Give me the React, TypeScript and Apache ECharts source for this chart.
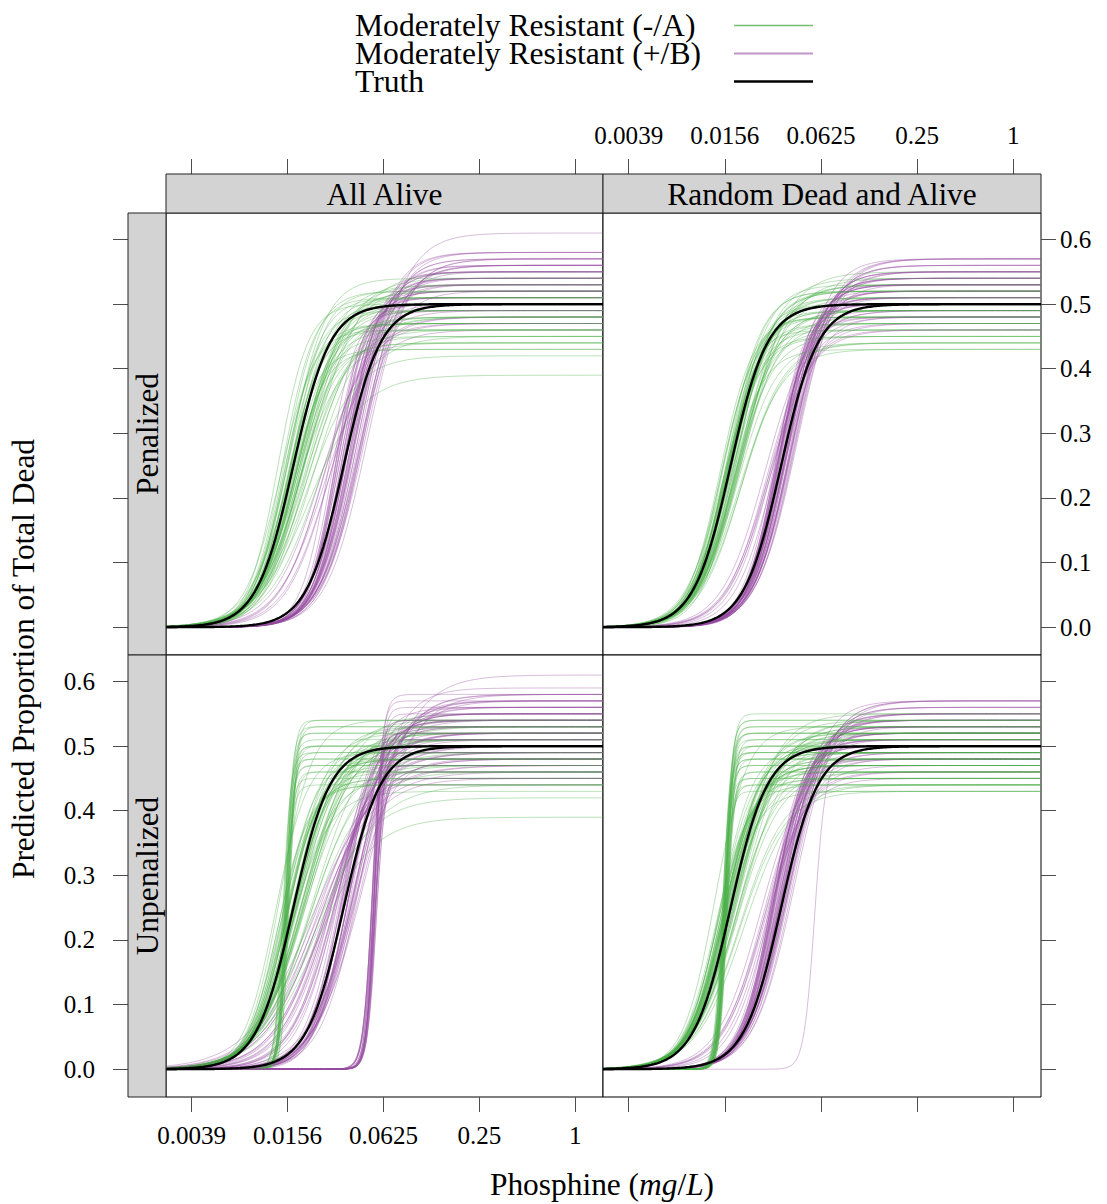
import React, { useEffect, useRef } from "react";
import * as echarts from "echarts";

// ---------- data ----------
const X_TICKS = [-8, -6, -4, -2, 0]; // log2(mg/L)
const X_TICK_LABELS = ["0.0039", "0.0156", "0.0625", "0.25", "1"];
const Y_TICKS = [0, 0.1, 0.2, 0.3, 0.4, 0.5, 0.6];
const COLUMN_LABELS = ["All Alive", "Random Dead and Alive"];
const ROW_LABELS = ["Penalized", "Unpenalized"];
const LEGEND_LABELS = ["Moderately Resistant (-/A)", "Moderately Resistant (+/B)", "Truth"];

// truth curves: [green, purple]
const TRUTH_ASYM = [0.5, 0.5];
const TRUTH_MID = [-5.88, -4.83];
const TRUTH_SLOPE = [2.6, 2.6];

// Penalized / All Alive
const PA_G_ASYM = [0.47,0.50,0.52,0.44,0.49,0.53,0.46,0.51,0.48,0.43,0.55,0.50,0.45,0.52,0.47,0.49,0.39,0.51,0.46,0.53,0.48,0.44,0.50,0.52,0.47,0.45,0.49,0.54,0.43,0.51,0.48,0.46,
  0.50,0.47,0.53,0.45,0.51,0.48,0.44,0.52,0.49,0.46,0.54,0.50,0.47,0.42,0.51,0.48];
const PA_G_MID = [-5.90,-5.75,-6.05,-5.80,-5.95,-5.60,-6.10,-5.85,-5.70,-5.95,-5.50,-6.00,-5.65,-5.90,-6.15,-5.80,-5.55,-5.70,-6.00,-5.85,-5.45,-5.75,-6.20,-5.65,-5.95,-5.35,-5.80,-5.60,-6.05,-5.90,-5.70,-5.85,
  -5.80,-6.00,-5.70,-5.90,-6.10,-5.55,-5.85,-5.75,-6.05,-5.65,-5.95,-5.50,-5.85,-5.60,-6.00,-5.75];
const PA_G_SLOPE = [2.6,2.3,2.9,2.1,2.7,2.0,3.1,2.5,2.2,2.8,1.9,2.6,2.4,3.0,2.7,2.3,1.8,2.5,2.9,2.2,2.0,2.6,3.2,2.4,2.8,1.9,2.5,2.1,3.0,2.7,2.3,2.6,
  2.4,2.8,2.2,2.6,3.0,2.0,2.5,2.3,2.9,2.1,2.7,1.9,2.6,2.0,2.8,2.4];
const PA_P_ASYM = [0.53,0.56,0.50,0.58,0.52,0.55,0.61,0.49,0.54,0.57,0.51,0.53,0.47,0.56,0.52,0.58,0.50,0.54,0.55,0.48,0.53,0.57,0.51,0.56,0.46,0.54,0.52,0.55,0.50,0.53,0.57,0.49,
  0.55,0.52,0.57,0.50,0.54,0.48,0.56,0.53,0.51,0.58,0.49,0.55,0.52,0.47,0.54,0.56];
const PA_P_MID = [-4.80,-4.60,-5.00,-4.50,-4.85,-4.70,-4.40,-5.15,-4.75,-4.55,-4.95,-4.65,-5.25,-4.45,-4.90,-4.60,-5.05,-4.70,-4.50,-5.10,-4.85,-4.35,-4.95,-4.65,-5.20,-4.80,-4.55,-4.75,-5.00,-4.70,-4.40,-4.90,
  -4.75,-4.95,-4.55,-4.85,-4.65,-5.10,-4.45,-4.80,-5.00,-4.60,-5.20,-4.70,-4.90,-5.30,-4.75,-4.50];
const PA_P_SLOPE = [3.0,2.7,3.3,2.5,3.1,2.8,2.3,3.5,2.9,2.6,3.2,2.7,2.2,2.4,3.0,2.5,3.4,2.8,2.6,2.1,3.1,2.4,3.3,2.7,2.0,2.9,2.5,3.0,3.6,2.8,2.3,3.2,
  2.9,3.2,2.6,3.0,2.7,2.2,2.5,3.1,3.4,2.6,2.1,2.8,3.0,2.0,2.9,2.4];

// Penalized / Random Dead and Alive
const PR_G_ASYM = [0.50,0.47,0.52,0.45,0.49,0.53,0.48,0.51,0.44,0.50,0.54,0.46,0.52,0.49,0.47,0.51,0.43,0.50,0.53,0.48,0.46,0.52,0.49,0.55,0.47,0.50,0.45,0.51,0.48,0.53,0.49,0.44,
  0.51,0.48,0.53,0.46,0.50,0.44,0.52,0.49,0.47,0.54,0.45,0.50,0.48,0.52,0.43,0.49];
const PR_G_MID = [-5.85,-5.95,-5.75,-6.05,-5.90,-5.70,-6.00,-5.80,-5.65,-5.95,-5.60,-6.10,-5.85,-5.75,-6.00,-5.90,-5.70,-5.80,-5.65,-6.05,-5.85,-5.95,-5.75,-5.60,-6.00,-5.90,-5.80,-5.70,-6.10,-5.85,-5.95,-5.75,
  -5.80,-5.95,-5.70,-6.00,-5.85,-5.65,-5.90,-6.05,-5.75,-5.80,-6.00,-5.90,-5.70,-5.85,-5.95,-5.75];
const PR_G_SLOPE = [2.6,2.4,2.8,2.5,2.7,2.2,2.9,2.6,2.3,2.7,2.1,3.0,2.5,2.4,2.8,2.6,2.2,2.7,2.3,2.9,2.5,2.8,2.4,2.2,2.6,3.0,2.5,2.3,2.9,2.7,2.6,2.4,
  2.5,2.8,2.3,2.7,2.6,2.2,2.9,2.7,2.4,2.3,2.8,2.6,2.4,2.5,2.7,2.3];
const PR_P_ASYM = [0.52,0.55,0.49,0.57,0.51,0.54,0.47,0.53,0.56,0.50,0.48,0.54,0.52,0.57,0.46,0.53,0.51,0.55,0.49,0.52,0.56,0.50,0.54,0.47,0.53,0.51,0.55,0.48,0.52,0.57,0.50,0.53,
  0.54,0.51,0.56,0.48,0.53,0.55,0.50,0.57,0.52,0.49,0.54,0.46,0.53,0.55,0.51,0.48];
const PR_P_MID = [-4.80,-4.70,-4.95,-4.60,-4.85,-4.75,-5.05,-4.65,-4.55,-4.90,-5.10,-4.70,-4.85,-4.50,-5.00,-4.80,-4.90,-4.65,-5.15,-4.75,-4.60,-4.95,-4.70,-5.05,-4.85,-4.80,-4.55,-4.95,-4.75,-4.65,-4.90,-4.85,
  -4.75,-4.90,-4.60,-5.00,-4.80,-4.70,-4.95,-4.55,-4.85,-5.05,-4.65,-5.10,-4.75,-4.60,-4.90,-4.80];
const PR_P_SLOPE = [2.8,2.6,3.0,2.4,2.9,2.7,2.2,2.6,2.5,3.1,2.3,2.8,3.2,2.4,2.5,2.9,3.0,2.7,2.2,2.8,2.5,3.3,2.6,2.4,3.0,2.7,2.5,2.9,2.8,2.6,3.1,2.7,
  2.7,2.9,2.5,3.0,2.8,2.6,3.1,2.4,2.8,2.3,2.7,2.2,2.9,2.5,3.0,2.6];

// Unpenalized / All Alive
const UA_G_ASYM = [0.48,0.52,0.45,0.50,0.54,0.47,0.43,0.51,0.49,0.53,0.46,0.50,0.39,0.52,0.48,0.45,0.55,0.49,0.44,0.51,0.47,0.53,0.50,0.46,0.52,0.48,0.44,0.51,0.49,0.54,0.47,0.50,
  0.51,0.48,0.53,0.45,0.50,0.47,0.52,0.44,0.49,0.54,0.46,0.50,0.42,0.51,0.48,0.53];
const UA_G_MID = [-5.90,-5.70,-6.15,-5.80,-5.55,-6.05,-5.95,-5.65,-6.25,-5.85,-5.50,-6.00,-5.40,-5.75,-6.10,-5.90,-5.60,-5.85,-6.20,-5.70,-5.95,-5.45,-6.05,-5.80,-5.65,-6.00,-5.35,-5.90,-5.75,-6.15,-5.55,-5.85,
  -5.80,-6.00,-5.60,-6.10,-5.85,-5.70,-5.95,-6.20,-5.50,-5.75,-6.05,-5.90,-5.45,-5.65,-6.00,-5.80];
const UA_G_SLOPE = [2.5,2.1,2.8,2.3,1.9,2.7,2.4,2.0,3.0,2.5,1.8,2.6,1.7,2.2,2.9,2.4,2.0,2.6,3.1,2.2,2.5,1.8,2.7,2.3,2.1,2.8,1.6,2.5,2.2,3.0,1.9,2.4,
  2.3,2.7,2.0,2.9,2.4,2.1,2.6,3.0,1.8,2.2,2.8,2.5,1.7,2.0,2.7,2.3];
const UA_GS_ASYM = [0.54,0.53,0.52,0.51,0.50,0.50,0.49,0.48,0.47,0.46,0.45,0.44,0.53,0.49,0.52,0.50,0.48,0.46,0.54,0.47];
const UA_GS_MID = [-6.02,-6.06,-6.00,-6.08,-6.04,-5.98,-6.10,-6.02,-6.06,-6.00,-6.04,-6.08,-5.96,-6.02,-6.04,-6.00,-6.06,-6.02,-5.98,-6.04];
const UA_GS_SLOPE = [13,12,14,11,13,15,12,14,13,12,14,11,13,12,13,12,14,13,12,13];
const UA_P_ASYM = [0.53,0.57,0.50,0.55,0.61,0.48,0.54,0.52,0.58,0.46,0.53,0.56,0.51,0.49,0.57,0.54,0.52,0.47,0.55,0.58,0.50,0.53,0.56,0.45,0.54,0.51,0.57,0.49,0.55,0.52,0.48,0.56,
  0.55,0.52,0.58,0.49,0.54,0.56,0.51,0.47,0.57,0.53,0.50,0.55,0.48,0.59,0.52,0.54];
const UA_P_MID = [-4.85,-4.60,-5.15,-4.70,-4.45,-5.30,-4.95,-4.75,-4.55,-5.40,-5.05,-4.65,-4.90,-5.20,-4.50,-4.80,-5.00,-5.50,-4.70,-4.40,-5.10,-4.85,-4.60,-5.25,-4.95,-4.75,-4.55,-5.35,-4.80,-5.05,-4.65,-4.90,
  -4.75,-5.00,-4.50,-5.20,-4.85,-4.60,-5.10,-5.45,-4.45,-4.90,-5.15,-4.70,-5.30,-4.55,-4.95,-4.80];
const UA_P_SLOPE = [2.6,2.2,2.0,2.8,1.9,1.7,2.4,3.0,2.1,1.6,2.3,2.7,3.2,1.8,2.5,2.9,2.2,1.5,2.6,2.0,1.9,3.4,2.4,1.8,2.1,2.8,2.3,1.7,3.0,2.0,2.5,2.7,
  2.5,2.1,2.2,1.9,2.7,2.3,2.0,1.6,2.1,2.9,1.8,2.6,1.7,2.4,2.2,2.8];
const UA_PS_ASYM = [0.44,0.46,0.48,0.50,0.52,0.54,0.56,0.58,0.45,0.47,0.49,0.51,0.53,0.55,0.47,0.50,0.45,0.48,0.51,0.54,0.57,0.46,0.49,0.52];
const UA_PS_MID = [-4.20,-4.18,-4.22,-4.16,-4.20,-4.24,-4.18,-4.22,-4.16,-4.20,-4.18,-4.24,-4.22,-4.20,-4.17,-4.21,-4.19,-4.21,-4.17,-4.23,-4.19,-4.15,-4.25,-4.20];
const UA_PS_SLOPE = [11,12,10,11,13,11,12,10,11,12,11,13,10,11,12,11,11,12,11,10,12,11,11,13];

// Unpenalized / Random Dead and Alive
const UR_G_ASYM = [0.49,0.52,0.46,0.50,0.54,0.47,0.44,0.51,0.48,0.53,0.45,0.50,0.52,0.47,0.49,0.55,0.46,0.51,0.43,0.50,0.48,0.53,0.46,0.52,0.49,0.44,0.51,0.47,0.54,0.50,0.48,0.45,
  0.50,0.47,0.53,0.45,0.51,0.48,0.44,0.52,0.49,0.46,0.54,0.50,0.47,0.52,0.43,0.49];
const UR_G_MID = [-5.95,-5.80,-6.10,-5.90,-5.70,-6.05,-6.20,-5.85,-6.00,-5.75,-6.15,-5.95,-5.65,-6.05,-5.90,-5.80,-6.10,-5.95,-5.70,-6.00,-5.85,-6.20,-5.75,-5.95,-6.05,-5.60,-5.90,-6.00,-5.85,-6.10,-5.75,-5.95,
  -5.90,-6.05,-5.75,-6.15,-5.85,-6.00,-5.70,-5.95,-6.10,-5.80,-5.65,-6.00,-5.90,-5.75,-6.05,-5.85];
const UR_G_SLOPE = [2.6,2.3,2.8,2.5,2.1,2.7,2.9,2.4,2.6,2.2,2.8,2.5,2.0,2.7,2.4,2.3,2.9,2.6,2.1,2.7,2.5,3.0,2.2,2.6,2.8,2.0,2.5,2.7,2.3,2.9,2.2,2.6,
  2.5,2.7,2.2,2.9,2.4,2.6,2.1,2.5,2.8,2.3,2.1,2.7,2.5,2.3,2.8,2.4];
const UR_GS_ASYM = [0.55,0.54,0.53,0.52,0.52,0.51,0.50,0.50,0.49,0.49,0.48,0.47,0.47,0.46,0.45,0.45,0.44,0.43,0.51,0.48,0.54,0.52,0.50,0.48,0.46,0.44,0.53,0.49];
const UR_GS_MID = [-5.98,-6.02,-5.96,-6.00,-6.04,-5.98,-6.02,-5.96,-6.00,-6.04,-5.98,-6.02,-6.00,-5.96,-6.04,-5.98,-6.00,-6.02,-5.94,-6.06,-6.00,-5.98,-6.02,-6.00,-5.96,-6.04,-6.00,-5.98];
const UR_GS_SLOPE = [13,12,14,13,12,14,13,12,14,13,12,13,14,12,13,14,12,13,13,12,13,13,12,14,13,12,13,13];
const UR_P_ASYM = [0.52,0.55,0.49,0.57,0.51,0.54,0.47,0.53,0.56,0.50,0.48,0.54,0.52,0.57,0.46,0.53,0.51,0.55,0.49,0.52,0.56,0.50,0.54,0.45,0.53,0.51,0.55,0.48,0.52,0.57,0.50,0.53,
  0.54,0.51,0.56,0.48,0.53,0.55,0.50,0.57,0.52,0.49,0.54,0.46,0.53,0.55,0.51,0.48];
const UR_P_MID = [-4.90,-4.75,-5.05,-4.65,-4.95,-4.80,-5.15,-4.70,-4.60,-5.00,-5.20,-4.85,-4.95,-4.55,-5.10,-4.90,-5.00,-4.75,-5.25,-4.85,-4.70,-5.05,-4.80,-5.15,-4.95,-4.90,-4.65,-5.05,-4.85,-4.75,-5.00,-4.95,
  -4.85,-5.00,-4.70,-5.10,-4.90,-4.80,-5.05,-4.65,-4.95,-5.15,-4.75,-5.20,-4.85,-4.70,-5.00,-4.90];
const UR_P_SLOPE = [2.8,2.6,3.0,2.4,2.9,2.7,2.2,2.6,2.5,3.1,2.3,2.8,3.2,2.4,2.5,2.9,3.0,2.7,2.2,2.8,2.5,3.3,2.6,2.4,3.0,2.7,2.5,2.9,2.8,2.6,3.1,2.7,
  2.7,2.9,2.5,3.0,2.8,2.6,3.1,2.4,2.8,2.3,2.7,2.2,2.9,2.5,3.0,2.6];
const UR_PS_ASYM = [0.48];
const UR_PS_MID = [-4.13];
const UR_PS_SLOPE = [9];

// ---------- layout / style ----------
const FONT = "'Liberation Serif', 'Times New Roman', serif";
const GREEN = "#4DAF4A";
const PURPLE = "#984EA3";
const X_MIN = -8.535;
const X_MAX = 0.577;
const Y_MIN = -0.043;
const Y_MAX = 0.641;
const COL_LEFT = [166, 603];
const COL_WIDTH = [437, 438];
const ROW_TOP = [213, 655];
const PANEL_H = 442;
const STRIP = 39;
const TICK_COLOR = "#4d4d4d";

type Group = { asym: number[]; mid: number[]; slope: number[]; color: string };

const PANELS: { row: number; col: number; groups: Group[][] }[] = [
  {
    row: 0, col: 0,
    groups: [
      [{ asym: PA_G_ASYM, mid: PA_G_MID, slope: PA_G_SLOPE, color: GREEN }, { asym: PA_P_ASYM, mid: PA_P_MID, slope: PA_P_SLOPE, color: PURPLE }],
    ],
  },
  {
    row: 0, col: 1,
    groups: [
      [{ asym: PR_G_ASYM, mid: PR_G_MID, slope: PR_G_SLOPE, color: GREEN }, { asym: PR_P_ASYM, mid: PR_P_MID, slope: PR_P_SLOPE, color: PURPLE }],
    ],
  },
  {
    row: 1, col: 0,
    groups: [
      [{ asym: UA_G_ASYM, mid: UA_G_MID, slope: UA_G_SLOPE, color: GREEN }, { asym: UA_P_ASYM, mid: UA_P_MID, slope: UA_P_SLOPE, color: PURPLE }],
      [{ asym: UA_GS_ASYM, mid: UA_GS_MID, slope: UA_GS_SLOPE, color: GREEN }, { asym: UA_PS_ASYM, mid: UA_PS_MID, slope: UA_PS_SLOPE, color: PURPLE }],
    ],
  },
  {
    row: 1, col: 1,
    groups: [
      [{ asym: UR_G_ASYM, mid: UR_G_MID, slope: UR_G_SLOPE, color: GREEN }, { asym: UR_P_ASYM, mid: UR_P_MID, slope: UR_P_SLOPE, color: PURPLE }],
      [{ asym: UR_GS_ASYM, mid: UR_GS_MID, slope: UR_GS_SLOPE, color: GREEN }, { asym: UR_PS_ASYM, mid: UR_PS_MID, slope: UR_PS_SLOPE, color: PURPLE }],
    ],
  },
];

const N_SAMPLES = 300;
const XS: number[] = [];
for (let i = 0; i <= N_SAMPLES; i++) XS.push(X_MIN + ((X_MAX - X_MIN) * i) / N_SAMPLES);

function logisticCurve(d: number, e: number, b: number): number[][] {
  return XS.map((x) => [x, d / (1 + Math.exp(-b * (x - e)))]);
}

function buildOption(): any {
  const grid: any[] = [];
  const xAxis: any[] = [];
  const yAxis: any[] = [];
  const series: any[] = [];

  PANELS.forEach((p, i) => {
    const isTop = p.row === 0;
    const isLeft = p.col === 0;
    grid.push({
      left: COL_LEFT[p.col],
      top: ROW_TOP[p.row],
      width: COL_WIDTH[p.col],
      height: PANEL_H,
      show: true,
      borderColor: "#000",
      borderWidth: 1,
      backgroundColor: "#fff",
      containLabel: false,
    });
    const showLabels = (isTop && !isLeft) || (!isTop && isLeft);
    xAxis.push({
      type: "value",
      gridIndex: i,
      min: X_MIN,
      max: X_MAX,
      position: isTop ? "top" : "bottom",
      offset: isTop ? STRIP : 0,
      axisLine: { show: false, onZero: false },
      splitLine: { show: false },
      axisTick: { show: true, length: 15, customValues: X_TICKS, lineStyle: { color: TICK_COLOR, width: 1 } },
      axisLabel: {
        show: showLabels,
        customValues: X_TICKS,
        margin: 26,
        fontSize: 25.1,
        fontFamily: FONT,
        color: "#000",
        formatter: (v: number) => {
          const k = X_TICKS.findIndex((t) => Math.abs(t - v) < 1e-6);
          return k >= 0 ? X_TICK_LABELS[k] : "";
        },
      },
    });
    yAxis.push({
      type: "value",
      gridIndex: i,
      min: Y_MIN,
      max: Y_MAX,
      position: isLeft ? "left" : "right",
      offset: isLeft ? STRIP - 1 : 0,
      axisLine: { show: false, onZero: false },
      splitLine: { show: false },
      axisTick: { show: true, length: 15, customValues: Y_TICKS, lineStyle: { color: TICK_COLOR, width: 1 } },
      axisLabel: {
        show: showLabels,
        customValues: Y_TICKS,
        margin: isLeft ? 33 : 19,
        fontSize: 25.1,
        fontFamily: FONT,
        color: "#000",
        formatter: (v: number) => v.toFixed(1),
      },
    });

    p.groups.forEach((pair) => {
      const n = Math.max(pair[0].asym.length, pair[1].asym.length);
      for (let k = 0; k < n; k++) {
        pair.forEach((g) => {
          if (k >= g.asym.length) return;
          series.push({
            type: "line",
            xAxisIndex: i,
            yAxisIndex: i,
            data: logisticCurve(g.asym[k], g.mid[k], g.slope[k]),
            showSymbol: false,
            symbol: "none",
            silent: true,
            lineStyle: { color: g.color, width: 1, opacity: 0.38 },
            z: 2,
          });
        });
      }
    });
    for (let t = 0; t < TRUTH_ASYM.length; t++) {
      series.push({
        type: "line",
        xAxisIndex: i,
        yAxisIndex: i,
        data: logisticCurve(TRUTH_ASYM[t], TRUTH_MID[t], TRUTH_SLOPE[t]),
        showSymbol: false,
        symbol: "none",
        silent: true,
        lineStyle: { color: "#000", width: 2.4, opacity: 1 },
        z: 3,
      });
    }
  });

  const graphic: any[] = [];
  // column strips
  COLUMN_LABELS.forEach((lab, c) => {
    graphic.push({
      type: "rect",
      shape: { x: COL_LEFT[c], y: ROW_TOP[0] - STRIP, width: COL_WIDTH[c], height: STRIP },
      style: { fill: "#d3d3d3", stroke: "#222", lineWidth: 1 },
      z: 10,
    });
    graphic.push({
      type: "text",
      x: COL_LEFT[c] + COL_WIDTH[c] / 2,
      y: ROW_TOP[0] - STRIP / 2 + 1,
      style: {
        text: lab, fontSize: 31.4, fontFamily: FONT, fill: "#000",
        align: "center", verticalAlign: "middle", textAlign: "center", textVerticalAlign: "middle",
      },
      z: 11,
    });
  });
  // row strips
  ROW_LABELS.forEach((lab, r) => {
    graphic.push({
      type: "rect",
      shape: { x: COL_LEFT[0] - STRIP + 1, y: ROW_TOP[r], width: STRIP - 1, height: PANEL_H },
      style: { fill: "#d3d3d3", stroke: "#222", lineWidth: 1 },
      z: 10,
    });
    graphic.push({
      type: "text",
      x: COL_LEFT[0] - (STRIP - 1) / 2,
      y: ROW_TOP[r] + PANEL_H / 2,
      rotation: Math.PI / 2,
      style: {
        text: lab, fontSize: 31.4, fontFamily: FONT, fill: "#000",
        align: "center", verticalAlign: "middle", textAlign: "center", textVerticalAlign: "middle",
      },
      z: 11,
    });
  });
  // axis titles
  graphic.push({
    type: "text",
    x: 23,
    y: 659,
    rotation: Math.PI / 2,
    style: {
      text: "Predicted Proportion of Total Dead", fontSize: 31.4, fontFamily: FONT, fill: "#000",
      align: "center", verticalAlign: "middle", textAlign: "center", textVerticalAlign: "middle",
    },
  });
  graphic.push({
    type: "text",
    x: 602,
    y: 1184,
    style: {
      text: "{n|Phosphine (}{i|mg}{n|/}{i|L}{n|)}",
      fontSize: 31.4, fontFamily: FONT, fill: "#000",
      align: "center", verticalAlign: "middle", textAlign: "center", textVerticalAlign: "middle",
      rich: {
        n: { fontSize: 31.4, fontFamily: FONT, fill: "#000", color: "#000" },
        i: { fontSize: 31.4, fontFamily: FONT, fontStyle: "italic", fill: "#000", color: "#000" },
      },
    },
  });
  // legend
  const legendColors = [GREEN, PURPLE, "#000"];
  const legendOpacity = [0.8, 0.6, 1];
  const legendWidth = [1.5, 1.8, 2.4];
  LEGEND_LABELS.forEach((lab, k) => {
    const y = 25.5 + k * 28;
    graphic.push({
      type: "text",
      x: 355,
      y,
      style: {
        text: lab, fontSize: 31.6, lineHeight: 27, fontFamily: FONT, fill: "#000",
        align: "left", verticalAlign: "middle", textAlign: "left", textVerticalAlign: "middle",
      },
    });
    graphic.push({
      type: "line",
      shape: { x1: 734, y1: y, x2: 813, y2: y },
      style: { stroke: legendColors[k], lineWidth: legendWidth[k], opacity: legendOpacity[k] },
    });
  });

  return {
    animation: false,
    backgroundColor: "#fff",
    grid,
    xAxis,
    yAxis,
    series,
    graphic,
  };
}

export default function App() {
  const ref = useRef<HTMLDivElement>(null);
  useEffect(() => {
    if (!ref.current) return;
    const chart = echarts.init(ref.current, undefined, { renderer: "svg" });
    chart.setOption(buildOption());
    return () => chart.dispose();
  }, []);
  return (
    <div
      ref={ref}
      style={{ position: "absolute", left: 0, top: 0, width: 1107, height: 1204, background: "#fff" }}
    />
  );
}
